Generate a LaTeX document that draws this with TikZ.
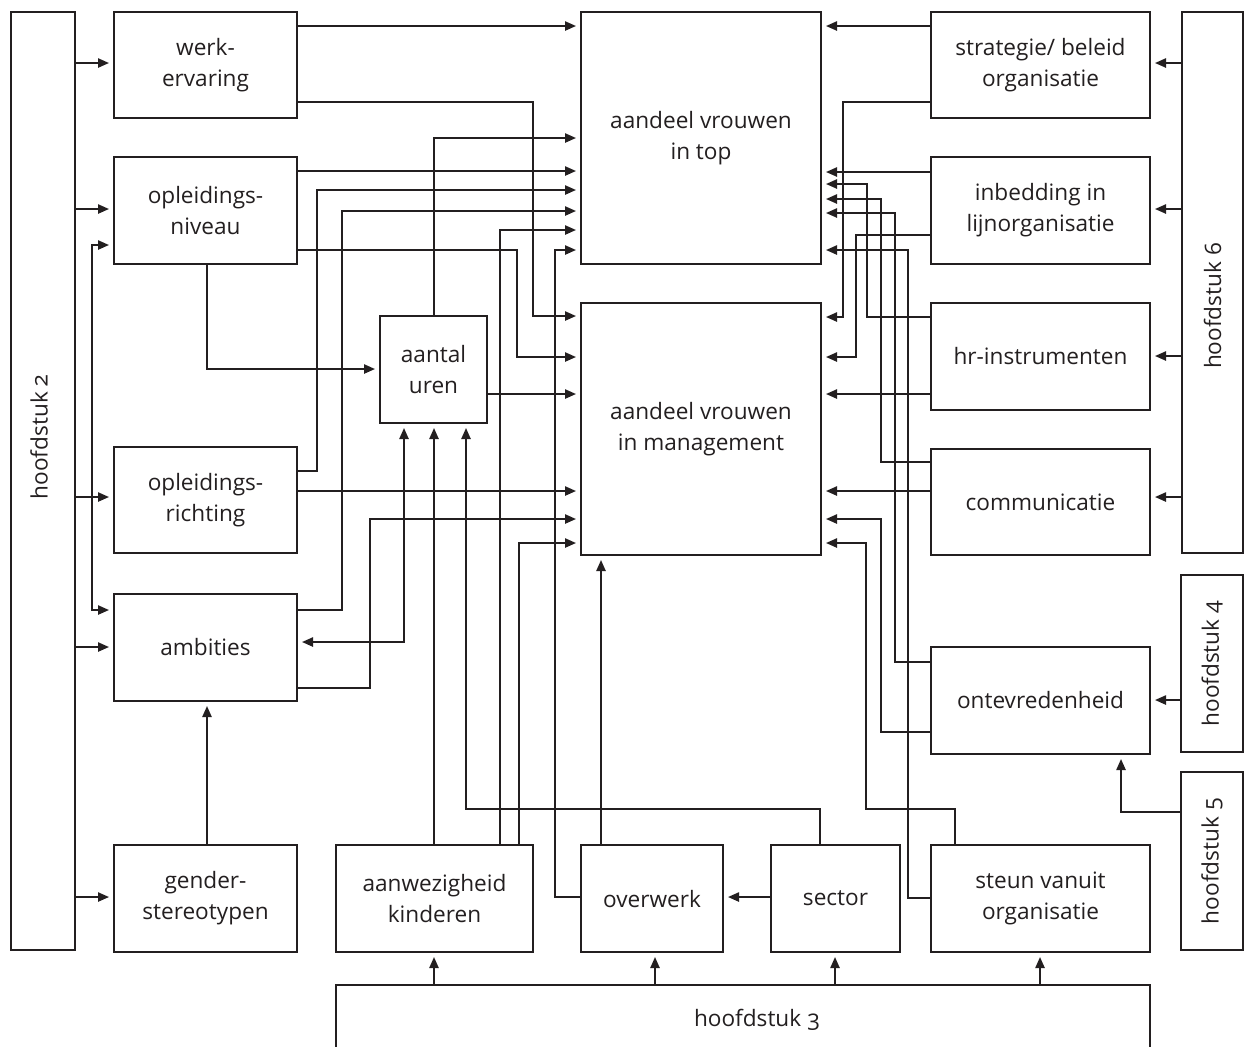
\documentclass[tikz,border=0pt]{standalone}
\usepackage{fontspec}
\setmainfont{Open Sans}[Numbers=OldStyle]
\usetikzlibrary{arrows.meta}
\definecolor{ink}{HTML}{231F20}
\begin{document}
\begin{tikzpicture}[x=0.5pt,y=-0.5pt,line width=0.9pt,draw=ink,
  box/.style={draw=ink,inner sep=0pt,outer sep=0pt,align=center,text=ink,
    font=\fontsize{11.3}{15.5}\selectfont},
  rtext/.style={text=ink,font=\fontsize{11.3}{15.5}\selectfont,rotate=90},
  arr/.style={-{Triangle[length=5.5pt,width=4.6pt]},shorten >=2.5pt},
  darr/.style={{Triangle[length=5.5pt,width=4.6pt]}-{Triangle[length=5.5pt,width=4.6pt]},shorten >=2.5pt,shorten <=2.5pt}]
\clip (0,0) rectangle (1245,1046);
\fill[white] (0,0) rectangle (1245,1046);
% nodes
\node[box,minimum width=32pt,minimum height=469pt] (h2) at (43,481) {};
\node[rtext] (h2t) at (39,437) {hoofdstuk 2};
\node[box,minimum width=91.5pt,minimum height=53pt] (werk) at (205.5,65) {werk-\\ervaring};
\node[box,minimum width=91.5pt,minimum height=53.5pt] (oplniv) at (205.5,210.5) {opleidings-\\niveau};
\node[box,minimum width=91.5pt,minimum height=53pt] (oplricht) at (205.5,500) {opleidings-\\richting};
\node[box,minimum width=91.5pt,minimum height=53.5pt] (amb) at (205.5,647.5) {ambities};
\node[box,minimum width=91.5pt,minimum height=53.5pt] (gender) at (205.5,898.5) {gender-\\stereotypen};
\node[box,minimum width=53.5pt,minimum height=53.5pt] (uren) at (433.5,369.5) {aantal\\uren};
\node[box,minimum width=120pt,minimum height=126pt] (top) at (701,138) {aandeel vrouwen\\in top};
\node[box,minimum width=120pt,minimum height=126pt] (mgmt) at (701,429) {aandeel vrouwen\\in management};
\node[box,minimum width=109.5pt,minimum height=53pt] (strat) at (1040.5,65) {strategie/ beleid\\organisatie};
\node[box,minimum width=109.5pt,minimum height=53.5pt] (inbed) at (1040.5,210.5) {inbedding in\\lijnorganisatie};
\node[box,minimum width=109.5pt,minimum height=53.5pt] (hr) at (1040.5,356.5) {hr-instrumenten};
\node[box,minimum width=109.5pt,minimum height=53pt] (comm) at (1040.5,502) {communicatie};
\node[box,minimum width=109.5pt,minimum height=53.5pt] (ontev) at (1040.5,700.5) {ontevredenheid};
\node[box,minimum width=30.5pt,minimum height=270.5pt] (h6) at (1212.5,282.5) {};
\node[rtext] (h6t) at (1212.5,306) {hoofdstuk 6};
\node[box,minimum width=31pt,minimum height=88.5pt] (h4) at (1212,663.5) {};
\node[rtext] (h4t) at (1212,663.5) {hoofdstuk 4};
\node[box,minimum width=31pt,minimum height=89pt] (h5) at (1212,861) {};
\node[rtext] (h5t) at (1212,861) {hoofdstuk 5};
\node[box,minimum width=98.5pt,minimum height=53.5pt] (kind) at (434.5,898.5) {aanwezigheid\\kinderen};
\node[box,minimum width=71pt,minimum height=53.5pt] (overw) at (652,898.5) {overwerk};
\node[box,minimum width=64.5pt,minimum height=53.5pt] (sector) at (835.5,898.5) {sector};
\node[box,minimum width=109.5pt,minimum height=53.5pt] (steun) at (1040.5,898.5) {steun vanuit\\organisatie};
\node[box,minimum width=407pt,minimum height=35pt] (h3) at (743,1020) {};
\node[text=ink,font=\fontsize{11.3}{15.5}\selectfont] (h3t) at (757,1020) {hoofdstuk 3};
% hoofdstuk 2 arrows
\draw[arr] (h2.east |- 0,63) -- (werk.west |- 0,63);
\draw[arr] (h2.east |- 0,209) -- (oplniv.west |- 0,209);
\draw[arr] (h2.east |- 0,497) -- (oplricht.west |- 0,497);
\draw[arr] (h2.east |- 0,647) -- (amb.west |- 0,647);
\draw[arr] (h2.east |- 0,897) -- (gender.west |- 0,897);
\draw[darr] (oplniv.west |- 0,245) -- (92,245) -- (92,610) -- (amb.west |- 0,610);
% werk-ervaring
\draw[arr] (werk.east |- 0,26) -- (top.west |- 0,26);
\draw[arr] (werk.east |- 0,102) -- (533,102) -- (533,316) -- (mgmt.west |- 0,316);
% opleidingsniveau
\draw[arr] (oplniv.east |- 0,171) -- (top.west |- 0,171);
\draw[arr] (oplniv.east |- 0,250) -- (517,250) -- (517,357) -- (mgmt.west |- 0,357);
\draw[arr] (oplniv.south -| 207,0) -- (207,369) -- (uren.west |- 0,369);
% opleidingsrichting
\draw[arr] (oplricht.east |- 0,471) -- (317,471) -- (317,190) -- (top.west |- 0,190);
\draw[arr] (oplricht.east |- 0,491) -- (mgmt.west |- 0,491);
% ambities
\draw[arr] (amb.east |- 0,610) -- (342,610) -- (342,211) -- (top.west |- 0,211);
\draw[arr] (amb.east |- 0,688) -- (370,688) -- (370,519) -- (mgmt.west |- 0,519);
\draw[darr] (amb.east |- 0,642) -- (404,642) -- (uren.south -| 404,0);
% gender
\draw[arr] (gender.north -| 207,0) -- (amb.south -| 207,0);
% aantal uren
\draw[arr] (uren.north -| 434,0) -- (434,138) -- (top.west |- 0,138);
\draw[arr] (uren.east |- 0,394) -- (mgmt.west |- 0,394);
% kinderen
\draw[arr] (kind.north -| 434,0) -- (uren.south -| 434,0);
\draw[arr] (kind.north -| 500,0) -- (500,230) -- (top.west |- 0,230);
\draw[arr] (kind.north -| 519,0) -- (519,543) -- (mgmt.west |- 0,543);
% overwerk
\draw[arr] (overw.west |- 0,897) -- (555,897) -- (555,250) -- (top.west |- 0,250);
\draw[arr] (overw.north -| 601,0) -- (mgmt.south -| 601,0);
% sector
\draw[arr] (sector.west |- 0,897) -- (overw.east |- 0,897);
\draw[arr] (sector.north -| 820,0) -- (820,809) -- (466,809) -- (uren.south -| 466,0);
% steun
\draw[arr] (steun.north -| 955,0) -- (955,809) -- (866,809) -- (866,543) -- (mgmt.east |- 0,543);
\draw[arr] (steun.west |- 0,898) -- (908,898) -- (908,250) -- (top.east |- 0,250);
% ontevredenheid
\draw[arr] (ontev.west |- 0,662) -- (895,662) -- (895,213) -- (top.east |- 0,213);
\draw[arr] (ontev.west |- 0,732) -- (881,732) -- (881,519) -- (mgmt.east |- 0,519);
% communicatie
\draw[arr] (comm.west |- 0,462) -- (881,462) -- (881,199) -- (top.east |- 0,199);
\draw[arr] (comm.west |- 0,491) -- (mgmt.east |- 0,491);
% hr
\draw[arr] (hr.west |- 0,317) -- (867,317) -- (867,184) -- (top.east |- 0,184);
\draw[arr] (hr.west |- 0,394) -- (mgmt.east |- 0,394);
% inbedding
\draw[arr] (inbed.west |- 0,172) -- (top.east |- 0,172);
\draw[arr] (inbed.west |- 0,235) -- (856,235) -- (856,357) -- (mgmt.east |- 0,357);
% strategie
\draw[arr] (strat.west |- 0,26) -- (top.east |- 0,26);
\draw[arr] (strat.west |- 0,102) -- (843,102) -- (843,317) -- (mgmt.east |- 0,317);
% hoofdstuk 6
\draw[arr] (h6.west |- 0,63) -- (strat.east |- 0,63);
\draw[arr] (h6.west |- 0,209) -- (inbed.east |- 0,209);
\draw[arr] (h6.west |- 0,356) -- (hr.east |- 0,356);
\draw[arr] (h6.west |- 0,497) -- (comm.east |- 0,497);
% hoofdstuk 4 and 5
\draw[arr] (h4.west |- 0,700) -- (ontev.east |- 0,700);
\draw[arr] (h5.west |- 0,812) -- (1121,812) -- (ontev.south -| 1121,0);
% hoofdstuk 3
\draw[arr] (h3.north -| 434,0) -- (kind.south -| 434,0);
\draw[arr] (h3.north -| 655,0) -- (overw.south -| 655,0);
\draw[arr] (h3.north -| 835,0) -- (sector.south -| 835,0);
\draw[arr] (h3.north -| 1040,0) -- (steun.south -| 1040,0);
\end{tikzpicture}
\end{document}
